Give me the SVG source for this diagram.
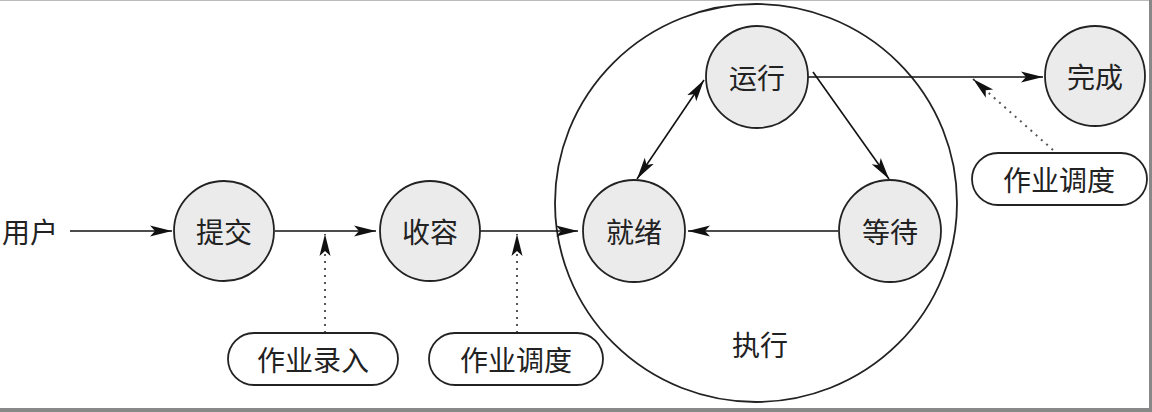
<svg xmlns="http://www.w3.org/2000/svg" width="1152" height="412" viewBox="0 0 1152 412">
<defs>
<style>
.node{fill:#ebebeb;stroke:#222;stroke-width:1.8}
.pill{fill:#fff;stroke:#222;stroke-width:1.8}
.line{fill:none;stroke:#111;stroke-width:1.6}
.dot{fill:none;stroke:#555;stroke-width:2;stroke-dasharray:2 5}
.big{fill:none;stroke:#222;stroke-width:1.8}
text{font-family:"Noto Sans CJK SC","Noto Sans",sans-serif;font-size:28px;fill:#222;text-anchor:middle;dominant-baseline:central}
</style>
<marker id="ah" markerUnits="userSpaceOnUse" markerWidth="24" markerHeight="14" refX="22" refY="7" orient="auto-start-reverse">
<path d="M0,1.5 L22,7 L0,12.5 L5,7 Z" fill="#111"/>
</marker>
</defs>
<rect x="0" y="0" width="1152" height="412" fill="#fff"/>
<line x1="0" y1="0.5" x2="1152" y2="0.5" stroke="#bbb" stroke-width="1"/>
<rect x="1149" y="0" width="3" height="412" fill="#888"/>
<rect x="0" y="408" width="1152" height="4" fill="#888"/>

<g id="exec-area">
<ellipse class="big" cx="756" cy="203" rx="201" ry="199"/>
<text x="760" y="344">执行</text>
</g>

<g id="connectors">
<line class="line" x1="70" y1="231" x2="172" y2="231" marker-end="url(#ah)"/>
<line class="line" x1="275" y1="231" x2="376" y2="231" marker-end="url(#ah)"/>
<line class="line" x1="480" y1="231" x2="578" y2="231" marker-end="url(#ah)"/>
<line class="line" x1="838" y1="231" x2="688" y2="231" marker-end="url(#ah)"/>
<line class="line" x1="637" y1="179" x2="704" y2="80" marker-start="url(#ah)" marker-end="url(#ah)"/>
<line class="line" x1="813" y1="72" x2="889" y2="179" marker-end="url(#ah)"/>
<line class="line" x1="808" y1="77" x2="1043" y2="77" marker-end="url(#ah)"/>
<line class="dot" x1="325" y1="333" x2="325" y2="234" marker-end="url(#ah)"/>
<line class="dot" x1="517" y1="333" x2="517" y2="234" marker-end="url(#ah)"/>
<line class="dot" x1="1053" y1="150" x2="973" y2="79" marker-end="url(#ah)"/>
</g>

<g id="user"><text x="30" y="231">用户</text></g>
<g id="submit"><circle class="node" cx="224" cy="231" r="50"/><text x="224" y="231">提交</text></g>
<g id="accept"><circle class="node" cx="430" cy="231" r="50"/><text x="430" y="231">收容</text></g>
<g id="ready"><circle class="node" cx="634" cy="231" r="51"/><text x="634" y="231">就绪</text></g>
<g id="running"><circle class="node" cx="757" cy="77" r="51"/><text x="757" y="77">运行</text></g>
<g id="waiting"><circle class="node" cx="890" cy="231" r="51"/><text x="890" y="231">等待</text></g>
<g id="done"><circle class="node" cx="1095" cy="76" r="50"/><text x="1095" y="76">完成</text></g>
<g id="job-entry"><rect class="pill" x="228" y="333" width="170" height="52" rx="26"/><text x="313" y="359">作业录入</text></g>
<g id="job-sched-1"><rect class="pill" x="429" y="333" width="174" height="52" rx="26"/><text x="516" y="359">作业调度</text></g>
<g id="job-sched-2"><rect class="pill" x="972" y="153" width="175" height="52" rx="26"/><text x="1059" y="179">作业调度</text></g>
</svg>
